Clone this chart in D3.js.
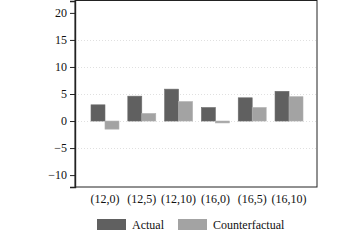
<!DOCTYPE html>
<html>
<head>
<meta charset="utf-8">
<script src="https://cdn.jsdelivr.net/npm/d3@7"></script>
<style>
  html, body { margin: 0; padding: 0; background: #fff; }
</style>
</head>
<body>
<script>
const WIDTH = 360;
const HEIGHT = 240;

const categories = ["(12,0)", "(12,5)", "(12,10)", "(16,0)", "(16,5)", "(16,10)"];
const seriesNames = ["Actual", "Counterfactual"];
const actual = [3.0, 4.6, 5.9, 2.5, 4.3, 5.5];
const counterfactual = [-1.5, 1.4, 3.6, -0.35, 2.5, 4.5];
const yTicks = [-10, -5, 0, 5, 10, 15, 20];
const gridTicks = [-5, 0, 5, 10, 15];

const colors = { Actual: "#606060", Counterfactual: "#a3a3a3" };
const FONT = "'Liberation Serif', 'Times New Roman', serif";

const plot = { left: 75, right: 317, top: 0.5, bottom: 187 };

const rows = categories.map((c, i) => ({
  cat: c,
  values: [
    { series: "Actual", value: actual[i] },
    { series: "Counterfactual", value: counterfactual[i] },
  ],
}));

const svg = d3.select("body")
  .append("svg")
  .attr("width", WIDTH)
  .attr("height", HEIGHT)
  .attr("viewBox", `0 0 ${WIDTH} ${HEIGHT}`);

svg.append("rect").attr("width", WIDTH).attr("height", HEIGHT).attr("fill", "#fff");

const y = d3.scaleLinear().domain([-12.2, 22.2]).range([plot.bottom, plot.top + 0.5]);

const x = d3.scaleBand()
  .domain(categories)
  .range([91, 303])
  .paddingInner(0.24)
  .paddingOuter(0);

const xSub = d3.scaleBand()
  .domain(seriesNames)
  .range([0, x.bandwidth()]);

// gridlines
svg.append("g")
  .selectAll("line")
  .data(gridTicks)
  .join("line")
  .attr("x1", plot.left)
  .attr("x2", plot.right)
  .attr("y1", d => Math.round(y(d)) + 0.5)
  .attr("y2", d => Math.round(y(d)) + 0.5)
  .attr("stroke", "#d8d8d8")
  .attr("stroke-width", 0.8)
  .attr("stroke-dasharray", "1,2");

// bars
const groups = svg.append("g")
  .selectAll("g")
  .data(rows)
  .join("g")
  .attr("transform", d => `translate(${x(d.cat)},0)`);

groups.selectAll("rect")
  .data(d => d.values)
  .join("rect")
  .attr("x", d => xSub(d.series))
  .attr("y", d => y(Math.max(0, d.value)))
  .attr("width", xSub.bandwidth())
  .attr("height", d => Math.abs(y(d.value) - y(0)))
  .attr("fill", d => colors[d.series])
  .attr("stroke", d => d.series === "Actual" ? "#6e6e6e" : "#b0b0b0")
  .attr("stroke-width", 0.6);

// frame
svg.append("rect")
  .attr("x", plot.left)
  .attr("y", plot.top)
  .attr("width", plot.right - plot.left)
  .attr("height", plot.bottom - plot.top)
  .attr("fill", "none")
  .attr("stroke", "#222")
  .attr("stroke-width", 1);

// y axis
const yAxis = svg.append("g")
  .attr("transform", `translate(${plot.left},0)`)
  .call(d3.axisLeft(y).tickValues(yTicks).tickSize(5).tickPadding(3)
    .tickFormat(d => d < 0 ? "\u2212" + Math.abs(d) : d));
yAxis.select(".domain").attr("stroke", "#222").attr("stroke-width", 1.4);
yAxis.selectAll(".tick line").attr("stroke", "#222").attr("stroke-width", 1);
yAxis.selectAll("text")
  .attr("fill", "#111")
  .attr("font-size", "12px")
  .attr("font-family", FONT);

// x axis labels
const xAxis = svg.append("g")
  .attr("transform", `translate(0,${plot.bottom})`)
  .call(d3.axisBottom(x).tickSize(0).tickPadding(7));
xAxis.select(".domain").remove();
xAxis.selectAll("text")
  .attr("fill", "#111")
  .attr("font-size", "12px")
  .attr("font-family", FONT);

// legend
const legendX = [97, 178];
const legend = svg.append("g")
  .selectAll("g")
  .data(seriesNames)
  .join("g")
  .attr("transform", (d, i) => `translate(${legendX[i]},219)`);
legend.append("rect")
  .attr("width", 29)
  .attr("height", 11)
  .attr("fill", d => colors[d]);
legend.append("text")
  .attr("x", 35)
  .attr("y", 9.5)
  .attr("fill", "#111")
  .attr("font-size", "12px")
  .attr("font-family", FONT)
  .text(d => d);
</script>
</body>
</html>
